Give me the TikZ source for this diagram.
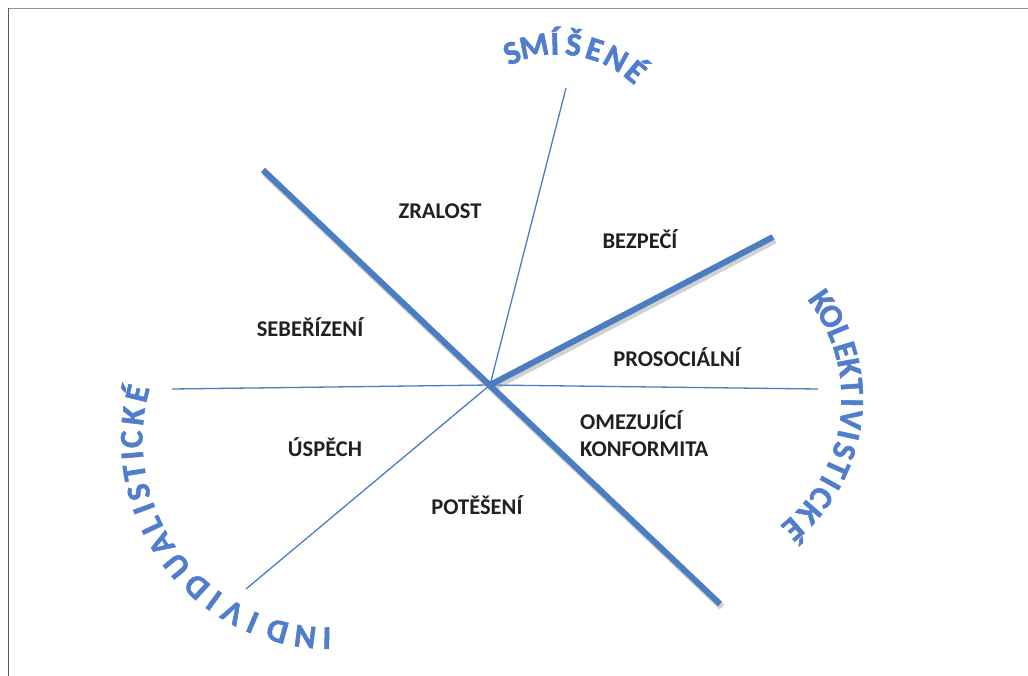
\documentclass[tikz,border=0pt]{standalone}
\usepackage{fontspec}
\setmainfont{Carlito}
\newfontfamily\artfont[BoldFeatures={FakeBold=1.6}]{Carlito}
\definecolor{spokeblue}{RGB}{74,126,193}
\definecolor{artblue}{RGB}{80,126,204}
\definecolor{labelink}{RGB}{35,31,32}
\definecolor{framegray}{RGB}{150,150,150}
\begin{document}
\begin{tikzpicture}
  [
    x = 1pt, y = -1pt,
    every node/.style = {font=\fontsize{22.5}{26}\selectfont\bfseries,
                         text=labelink, inner sep=0pt},
    spoke/.style       = {draw=spokeblue, line width=1.3pt},
    mainspoke/.style   = {draw=spokeblue, line width=6pt},
    spokeshadow/.style = {draw=black!40, line width=7pt, opacity=0.45,
                          transform canvas={shift={(2pt,-3pt)}}},
    value/.style       = {anchor=base},
    artletter/.style   = {font=\artfont\fontsize{33}{33}\selectfont\bfseries,
                          text=artblue, text height=21pt, text depth=0pt}
  ]
  \useasboundingbox (0,0) rectangle (1028,676);
  % frame
  \draw[framegray, line width=1.5pt] (8.5,8.5) -- (1028,8.5);
  \draw[black!65, line width=1.5pt] (8.5,8.5) -- (8.5,676);

  % spokes
  \coordinate (c)  at (490,385);
  \coordinate (nw) at (263,170);
  \coordinate (se) at (720,604);
  \coordinate (ne) at (773,237);
  \coordinate (n)  at (566,88);
  \coordinate (w)  at (172,389);
  \coordinate (e)  at (818,389);
  \coordinate (sw) at (246,589);

  \draw[spoke] (c) -- (n);
  \draw[spoke] (w) -- (c) -- (e);
  \draw[spoke] (c) -- (sw);
  \draw[spokeshadow] (nw) -- (se);
  \draw[spokeshadow] (c) -- (ne);
  \draw[mainspoke] (nw) -- (se);
  \draw[mainspoke] (c) -- (ne);

  % values
  \node[value] (zralost)   at (440,218.5) {ZRALOST};
  \node[value] (bezpeci)   at (640,249)   {BEZPEČÍ};
  \node[value] (seberiz)   at (310,337)   {SEBEŘÍZENÍ};
  \node[value] (prosoc)    at (677,366)   {PROSOCIÁLNÍ};
  \node[value, anchor=base west] (omezujici) at (580,429) {OMEZUJÍCÍ};
  \node[value, anchor=base west] (konform)   at (580,456) {KONFORMITA};
  \node[value] (uspech)    at (325,456)   {ÚSPĚCH};
  \node[value] (poteseni)  at (477,514)   {POTĚŠENÍ};

  % curved group names, one letter at a time
  \foreach \ch/\a [count=\i] in {S/112.5, M/101.5, Í/91.5, Š/82.5,
                                 E/72.3, N/61.2, É/50}
    \node[artletter, rotate=\a-90] (smisene-\i)
      at ({558+120*cos(\a)}, {164-120*sin(\a)}) {\ch};
  \foreach \ch/\a [count=\i] in {K/34.9, O/28.7, L/22.4, E/16.4, K/10.5,
                                 T/4.2, I/-1.2, V/-6.8, I/-12.2, S/-17.6,
                                 T/-23.8, I/-29.2, C/-34.8, K/-41.4, É/-49}
    \node[artletter, rotate=\a-90] (kolekt-\i)
      at ({680+172*cos(\a)}, {399-172*sin(\a)}) {\ch};
  \foreach \ch/\a [count=\i] in {I/-90.9, N/-97.2, D/-105.4, I/-113, V/-119.4,
                                 I/-125.9, D/-132.3, U/-140.6, A/-148.3,
                                 L/-154.5, I/-159.8, S/-164.8, T/-170.6,
                                 I/-175.6, C/-180.2, K/-187, É/-193.6}
    \node[artletter, rotate=\a-90] (individ-\i)
      at ({330+198*cos(\a)}, {440-198*sin(\a)}) {\ch};
\end{tikzpicture}
\end{document}
